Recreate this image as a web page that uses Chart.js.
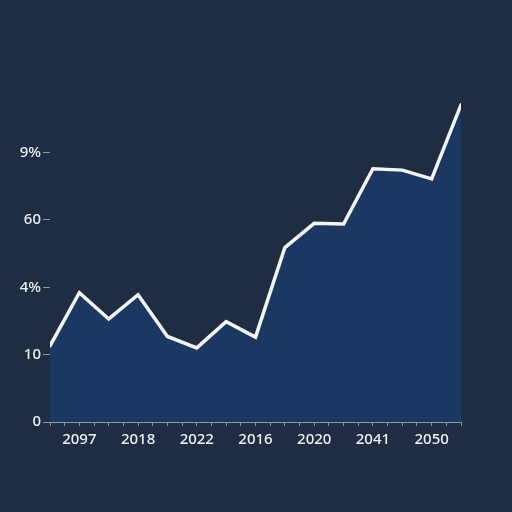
<!DOCTYPE html>
<html>
<head>
<meta charset="utf-8">
<script src="https://cdn.jsdelivr.net/npm/chart.js@4"></script>
<style>
  html, body { margin: 0; padding: 0; background: #1f2d42; }
  #wrap { width: 512px; height: 512px; }
</style>
</head>
<body>
<div id="wrap"><canvas id="c" width="512" height="512"></canvas></div>
<script>
const xTickLabels = ['2097', '2018', '2022', '2016', '2020', '2041', '2050'];
const yTickLabels = ['0', '10', '4%', '60', '9%'];
const seriesValues = [1.13, 1.92, 1.53, 1.89, 1.27, 1.10, 1.49, 1.26, 2.59, 2.95, 2.94, 3.76, 3.74, 3.61, 4.71];

const points = seriesValues.map((v, i) => ({ x: i, y: v }));

new Chart(document.getElementById('c'), {
  type: 'line',
  data: {
    datasets: [{
      data: points,
      borderColor: '#f4f5f7',
      borderWidth: 3.5,
      backgroundColor: '#1b3863',
      fill: 'origin',
      tension: 0,
      pointRadius: 0,
      borderJoinStyle: 'miter',
      borderCapStyle: 'round'
    }]
  },
  options: {
    responsive: false,
    animation: false,
    layout: { padding: { top: 92, right: 51, bottom: 50, left: 0 } },
    plugins: { legend: { display: false }, tooltip: { enabled: false } },
    scales: {
      x: {
        type: 'linear',
        min: 0,
        max: seriesValues.length - 1,
        grid: { drawOnChartArea: false, drawTicks: true, tickLength: 4, color: '#8f9aa8' },
        border: { display: true, color: '#8f9aa8', width: 1 },
        ticks: {
          stepSize: 0.5,
          autoSkip: false,
          maxRotation: 0,
          padding: 5,
          color: '#eef0f3',
          font: { family: 'Noto Sans', size: 15, weight: '500' },
          callback: (v) => (Number.isInteger(v) && v % 2 === 1) ? xTickLabels[(v - 1) / 2] : ''
        },
        afterFit: (s) => { s.height = 40; }
      },
      y: {
        min: 0,
        max: 4.9,
        grid: { drawOnChartArea: false, drawTicks: true, tickLength: 7, color: '#8f9aa8' },
        border: { display: false },
        ticks: {
          stepSize: 1,
          includeBounds: false,
          padding: 2,
          color: '#eef0f3',
          font: { family: 'Noto Sans', size: 15, weight: '500' },
          callback: (v) => yTickLabels[v] !== undefined ? yTickLabels[v] : ''
        },
        afterFit: (s) => { s.width = 50; }
      }
    }
  }
});
</script>
</body>
</html>
